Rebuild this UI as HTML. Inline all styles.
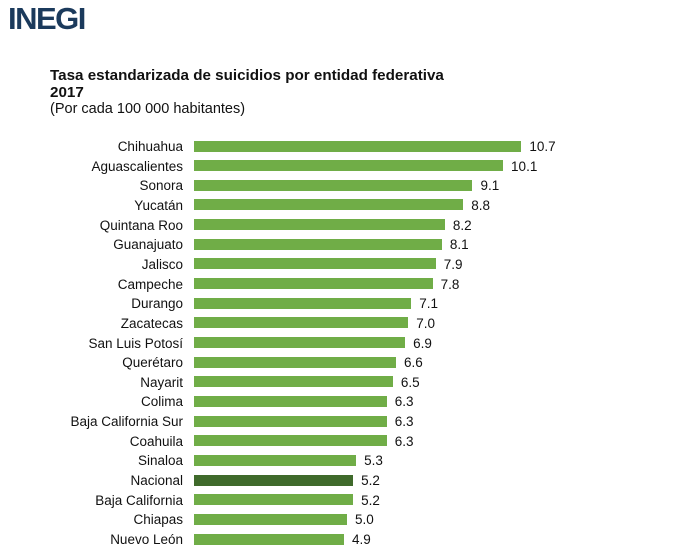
<!DOCTYPE html>
<html><head><meta charset="utf-8"><style>
body{margin:0;width:683px;height:543px;background:#fff;overflow:hidden;position:relative;font-family:"Liberation Sans",sans-serif;color:#111}
.logo{position:absolute;left:8px;top:1px;font-size:31px;font-weight:bold;color:#1b3a5c;letter-spacing:-1.5px}
.t{position:absolute;left:50px;font-size:14.5px}
.l{position:absolute;right:500px;font-size:13.5px;white-space:nowrap}
.b{position:absolute;left:194px;height:11px;background:#70ad47}
.v{position:absolute;font-size:13.5px}
</style></head><body>
<div class="logo">INEGI</div>
<div class="t" style="top:67px;font-weight:bold;font-size:15.2px">Tasa estandarizada de suicidios por entidad federativa</div>
<div class="t" style="top:84px;font-weight:bold;font-size:15.2px">2017</div>
<div class="t" style="top:101px">(Por cada 100 000 habitantes)</div>
<div id="c"></div>
<script>
var d=[["Chihuahua",10.7],["Aguascalientes",10.1],["Sonora",9.1],["Yucatán",8.8],["Quintana Roo",8.2],["Guanajuato",8.1],["Jalisco",7.9],["Campeche",7.8],["Durango",7.1],["Zacatecas",7.0],["San Luis Potosí",6.9],["Querétaro",6.6],["Nayarit",6.5],["Colima",6.3],["Baja California Sur",6.3],["Coahuila",6.3],["Sinaloa",5.3],["Nacional",5.2],["Baja California",5.2],["Chiapas",5.0],["Nuevo León",4.9]];
var h="";d.forEach(function(r,i){var c=146+i*19.65,w=r[1]*30.6;
h+='<div class="l" style="top:'+(c-7)+'px">'+r[0]+'</div><div class="b" style="top:'+(c-5.5)+'px;width:'+w+'px;'+(r[0]=="Nacional"?'background:#3f6a2b':'')+'"></div><div class="v" style="top:'+(c-7)+'px;left:'+(194+w+8)+'px">'+r[1].toFixed(1)+'</div>';});
document.getElementById("c").innerHTML=h;
</script>
</body></html>
